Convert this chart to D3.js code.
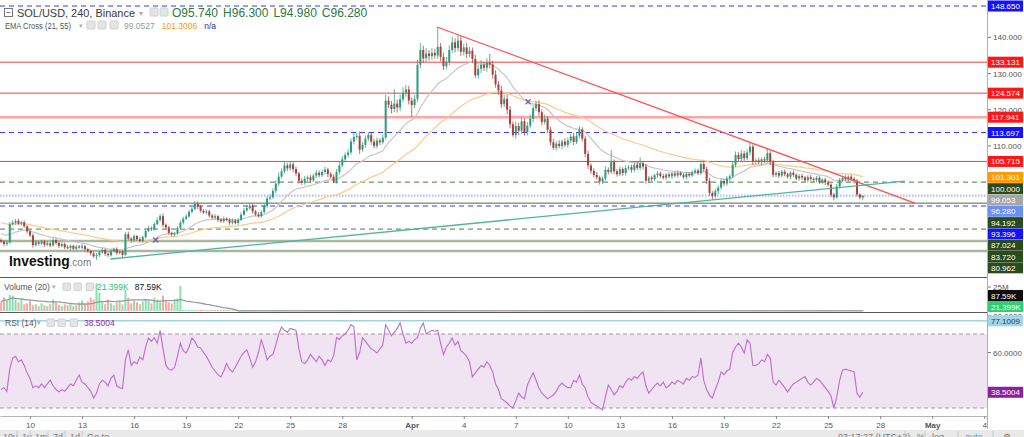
<!DOCTYPE html>
<html>
<head>
<meta charset="utf-8">
<title>SOL/USD 240</title>
<script src="https://cdn.jsdelivr.net/npm/d3@7"></script>
<style>
  html, body { margin: 0; padding: 0; background: #fff; overflow: hidden; }
  svg { display: block; font-family: "Liberation Sans", Arial, sans-serif; }
</style>
</head>
<body>
<svg id="chart" width="1024" height="437"></svg>
<script>
// ---- dados (velas de 4h, SOL/USD) ----
const firstCandle = Date.UTC(2022, 2, 8, 8);   // abertura da primeira vela
const firstOpen = 84.0;

const closes = [
  83.6, 82.9, 83.3, 88.4, 88.8, 89.3, 88.5, 88.9, 87.8, 86.4,
  85.3, 82.6, 83.4, 83.0, 83.6, 82.7, 83.1, 82.5, 84.0, 83.2,
  82.4, 82.9, 82.0, 81.8, 82.4, 81.6, 82.2, 81.9, 82.3, 81.5,
  81.0, 80.3, 79.5, 79.8, 80.6, 81.3, 80.2, 79.8, 80.9, 81.5,
  80.4, 80.8, 79.9, 85.6, 84.4, 83.9, 85.1, 84.2, 83.7, 84.8,
  86.5, 87.3, 87.0, 88.4, 89.5, 90.6, 88.2, 87.5, 86.0, 85.6,
  85.8, 87.3, 88.8, 89.9, 90.5, 91.8, 92.6, 94.0, 93.2, 92.1,
  91.6, 91.9, 90.8, 90.2, 90.6, 89.6, 89.2, 89.9, 89.5, 88.8,
  89.4, 88.7, 89.6, 91.0, 92.2, 92.8, 93.5, 91.9, 91.1, 90.6,
  91.7, 93.4, 95.5, 95.8, 97.6, 99.6, 101.5, 103.0, 104.6, 103.8,
  104.9, 103.6, 102.4, 100.4, 99.8, 100.9, 101.3, 100.5, 101.8, 102.6,
  101.9, 102.8, 103.5, 102.2, 101.5, 100.2, 102.8, 104.6, 106.3, 107.5,
  108.2, 111.2, 112.5, 112.8, 109.0, 110.3, 112.0, 113.0, 111.2, 110.0,
  111.5, 111.0, 112.3, 122.5, 121.4, 120.2, 121.7, 120.6, 122.9, 124.7,
  125.6, 122.5, 121.3, 123.0, 132.4, 136.5, 134.2, 135.5, 134.8, 135.7,
  135.0, 137.4, 134.6, 132.0, 133.2, 136.5, 138.6, 137.0, 139.1, 136.0,
  137.2, 135.4, 136.3, 134.0, 129.5, 131.3, 132.4, 131.6, 133.0, 132.5,
  129.7, 127.0, 125.3, 121.5, 123.0, 120.0, 116.0, 113.0, 115.5, 114.2,
  116.8, 113.8, 115.6, 117.5, 120.4, 121.5, 119.3, 116.6, 117.5, 114.5,
  111.0, 109.5, 110.6, 110.0, 111.2, 110.3, 111.5, 112.6, 111.1, 112.8,
  114.5, 112.0, 107.8, 104.6, 103.1, 102.0, 101.3, 100.2, 101.0, 103.4,
  102.8, 105.5, 103.0, 102.2, 103.6, 102.5, 103.9, 104.1, 103.4, 104.8,
  103.9, 105.2, 104.3, 100.4, 101.2, 100.8, 101.9, 102.4, 101.7, 101.2,
  102.1, 101.6, 102.4, 101.8, 102.6, 102.0, 101.4, 102.3, 101.8, 102.7,
  103.2, 102.5, 105.0, 103.6, 100.4, 97.0, 96.2, 97.5, 98.5, 100.3,
  99.6, 101.0, 101.6, 104.8, 107.5, 106.4, 107.9, 106.6, 108.2, 109.8,
  105.6, 106.0, 105.5, 106.3, 106.0, 108.0, 105.5, 102.0, 102.5, 101.8,
  102.9, 102.2, 101.5, 102.6, 102.0, 101.0, 101.7, 101.3, 100.5, 101.4,
  100.9, 100.6, 101.2, 100.0, 100.7, 99.9, 99.3, 96.5, 95.8, 98.8,
  100.5, 101.2, 100.8, 101.5, 100.9, 100.4, 96.6, 95.74, 96.28
];

// pavios (acima do corpo / abaixo do corpo)
const wickUp = [
  .5,.4,.6,.6,.7,.5,.6,.4,.5,.3, .4,.5,.6,.3,.5,.4,.6,.3,.5,.4,
  .3,.5,.4,.6,.4,.3,.5,.4,.6,.3, .4,.3,.5,.6,.4,.5,.3,.4,.6,.4,
  .5,.3,.4,.6,.7,.4,.5,.3,.6,.4, .5,.6,.4,.5,.7,.6,.8,.4,.5,.3,
  .4,.5,.6,.5,.7,.6,.5,.8,.6,.5, .4,.6,.5,.4,.6,.3,.5,.6,.4,.5,
  .6,.4,.5,.7,.6,.8,.7,.5,.4,.6, .5,.7,.6,.8,.7,.9,1.2,.8,1.1,.7,
  .9,.6,.7,.5,.6,.8,.5,.7,.6,.8, .6,.7,.8,.5,.6,.7,.8,1.0,.9,.7,
  1.0,.9,1.1,.8,1.2,.7,.9,.8,.6,.7, .8,.6,.9,1.6,1.2,1.0,4.0,1.1,1.3,1.5,
  1.2,1.0,.9,1.1,1.4,1.9,1.2,1.5,1.0,1.3, 1.1,5.45,1.0,1.2,1.4,1.3,1.6,1.1,1.5,1.2,
  1.0,1.3,1.1,.9,1.2,1.0,1.3,.8,1.2,2.4, 1.0,1.2,.9,1.4,1.1,1.3,1.0,.8,1.2,.9,
  1.1,.8,1.0,1.2,.9,1.0,1.1,.8,1.2,.7, .8,.9,.7,1.0,.6,.9,.8,.7,1.0,.8,
  1.0,.7,.8,.9,.6,.7,.8,.5,.6,.9, .7,3.4,.8,.6,.7,.5,.8,.6,.7,.5,
  .8,1.7,.6,.7,.5,.6,.4,.7,.5,.6, .5,.6,.4,.5,.6,.4,.5,.6,.4,.5,
  .6,.5,.9,.7,.6,.8,.5,.7,.6,.8, .5,.7,.6,.9,1.0,.8,.9,.7,.8,1.0,
  .7,.6,.8,.5,.7,1.4,.6,.7,.5,.6, .5,.6,.4,.5,.6,.4,.5,.6,.4,.5,
  .6,.4,.5,.6,.4,.5,.6,.4,.5,.7, .6,.5,.7,.4,.6,.5,.4,.3,.02
];
const wickDown = [
  .4,.6,.5,.3,.4,.6,.3,.5,.4,.6, .5,.7,.4,.5,.3,.6,.4,.5,.3,.5,
  .6,.4,.5,.3,.6,.4,.5,.3,.4,.6, .5,.6,.4,1.0,.5,.3,.6,.5,.4,.3,
  .5,.4,.6,.3,.5,.6,.4,.5,.3,.4, .4,.3,.5,.4,.3,.5,.6,.4,.5,.6,
  .5,.4,.3,.5,.4,.3,.5,.4,.6,.5, .4,.5,.6,.4,.5,.6,.4,.5,.3,.6,
  .5,.4,.6,.4,.3,.5,.4,.6,.5,.4, .5,.4,.6,.5,.4,.6,.7,.5,.6,.8,
  .6,.9,.7,.8,.6,.5,.7,.6,.5,.7, .6,.5,.7,.8,.6,.5,.6,.7,.5,.8,
  .7,.6,.8,.7,1.2,.6,.8,.7,.9,.6, .7,.8,.6,.5,1.0,1.2,.9,1.4,1.0,.8,
  1.1,1.0,3.3,.9,.8,1.0,1.3,.9,1.2,1.0, .9,1.0,1.2,1.1,.9,1.0,.8,1.2,.9,1.1,
  1.0,1.2,.9,1.1,.7,1.0,1.2,.9,1.1,1.0, 1.1,.9,1.2,1.0,.8,1.3,1.1,.5,.9,1.2,
  .8,1.0,.9,.7,1.0,.8,1.1,.9,.7,1.0, .9,.6,.8,.7,.9,.6,.8,.7,.9,.6,
  .7,.8,.9,1.0,.8,.7,.6,.9,.7,.6, .7,.6,.8,.7,.6,.8,.7,.6,.8,.7,
  .6,.7,.8,.9,.7,.6,.5,.7,.6,.5, .6,.5,.7,.5,.6,.4,.5,.6,.5,.4,
  .5,.6,.5,.7,.9,.8,1.1,.7,.8,.6, .7,.6,.8,.5,.7,.6,.8,.7,.6,.8,
  .9,.7,.6,.8,.7,.6,.8,.7,.6,.7, .5,.6,.5,.7,.6,.5,.6,.7,.5,.6,
  .5,.6,.7,.5,.6,.7,.5,.6,.8,.5, .6,.5,.6,.7,.5,.8,.6,.5,.76
];

// volume em milhões
const volumes = [
  9, 14, 11, 17, 16, 12, 9, 13, 7, 8, 11, 6, 7, 5, 8, 6, 5, 7, 12, 9,
  6, 5, 7, 6, 8, 5, 6, 9, 11, 7, 10, 14, 12, 29, 19, 9, 7, 12, 8, 6,
  9, 10, 7, 22, 14, 8, 11, 9, 7, 10, 12, 11, 8, 14, 12, 10, 16, 11, 9, 8,
  12, 13, 26,
  0.14,0.11,0.16,0.12,0.19,0.13,0.10,0.09,0.12,0.08,0.11,0.10,
  0.09,0.13,0.08,0.10,0.12,0.07,0.09,0.11,0.14,0.12,0.10,0.13,
  0.11,0.08,0.09,0.12,0.15,0.18,0.13,0.17,0.21,0.19,0.16,0.14,
  0.12,0.15,0.11,0.13,0.10,0.12,0.09,0.11,0.08,0.10,0.12,0.09,
  0.10,0.11,0.09,0.12,0.13,0.14,0.16,0.15,0.13,0.18,0.17,0.12,
  0.14,0.11,0.10,0.12,0.09,0.11,0.10,0.09,0.13,0.26,0.18,0.14,
  0.12,0.13,0.11,0.15,0.14,0.16,0.12,0.13,0.27,0.21,0.16,0.13,
  0.12,0.11,0.10,0.19,0.15,0.14,0.12,0.16,0.14,0.13,0.15,0.12,
  0.11,0.10,0.12,0.13,0.22,0.15,0.12,0.10,0.11,0.13,0.14,0.16,
  0.15,0.18,0.13,0.14,0.20,0.17,0.15,0.12,0.14,0.13,0.11,0.12,
  0.15,0.13,0.12,0.14,0.11,0.13,0.16,0.12,0.10,0.09,0.10,0.08,
  0.09,0.10,0.11,0.09,0.12,0.11,0.17,0.15,0.12,0.10,0.09,0.11,
  0.10,0.12,0.14,0.11,0.13,0.10,0.08,0.09,0.07,0.08,0.09,0.07,
  0.08,0.09,0.10,0.08,0.13,0.09,0.07,0.08,0.06,0.07,0.08,0.06,
  0.07,0.06,0.08,0.07,0.06,0.07,0.05,0.06,0.07,0.06,0.08,0.11,
  0.09,0.12,0.14,0.11,0.09,0.10,0.08,0.09,0.07,0.08,0.12,0.13,
  0.10,0.09,0.11,0.08,0.12,0.13,0.09,0.08,0.07,0.08,0.10,0.11,
  0.09,0.08,0.07,0.08,0.06,0.07,0.06,0.07,0.08,0.06,0.07,0.06,
  0.07,0.08,0.06,0.07,0.08,0.07,0.09,0.10,0.16,0.12,0.11,0.09,
  0.08,0.07,0.09,0.08,0.07,0.14,0.11,0.021399
];

const rsiValues = [
  40, 41, 39, 51, 57, 58, 55, 56, 53, 49,
  46, 41, 42, 41, 43, 41, 43, 45, 42, 40,
  38.7, 40, 39, 41, 43, 42, 45, 47.8, 44, 43,
  41, 39, 35.4, 38, 43, 45, 44, 42, 46, 47.8,
  42, 41, 40.5, 56, 61.4, 53, 55, 54, 57.6, 56,
  63, 67.8, 66, 68, 65, 72, 62, 53, 51, 50.5,
  52, 58, 65, 61, 59.7, 63, 67.8, 66, 63, 62.4,
  60, 58, 55, 52, 50, 48, 46.8, 50, 54, 51,
  49.5, 52, 55, 58, 60, 61.4, 57, 52, 55, 60,
  66.8, 62, 56, 58, 59, 64, 70, 73.8, 72, 71,
  73, 72.5, 72, 62, 55, 54, 56, 59, 57, 55,
  58, 56, 53, 56, 55, 58, 68, 67, 69, 70,
  72, 75, 74, 56, 60, 68, 66, 64, 62, 61,
  59.7, 62, 64, 75, 72, 69, 71, 73, 76, 70,
  65, 66, 65, 67, 68, 73, 76, 70, 71, 72,
  71.5, 72, 65, 59, 63, 65, 67.8, 64, 66, 61,
  59.7, 58, 55, 46.8, 49, 51, 53, 52, 55, 53,
  49.5, 43, 40, 35, 34, 32.7, 31, 30, 34, 38,
  36, 35, 42.4, 46, 49, 45, 40.8, 38, 36.5, 35,
  36, 37, 39, 42, 43.5, 42, 41, 41, 45, 44,
  47.8, 43, 40.8, 36, 33, 32, 31, 30, 29, 36,
  42.4, 40, 37, 39, 42, 41, 44, 46, 45, 47,
  46, 48, 49.5, 42, 38, 40, 42, 43.5, 42, 44,
  40.8, 42, 44, 43, 45, 44, 43, 46, 45, 47,
  46.5, 47.8, 57, 44.9, 40, 37, 35.4, 40, 44, 49.5,
  48, 50, 51, 60, 63, 65, 63, 59.7, 66.8, 65,
  53, 53, 54, 56, 55, 59, 57, 44, 42.4, 45,
  43, 41, 38.7, 41, 43, 44, 45, 46, 47, 44,
  42.4, 44, 46, 45, 43, 41, 39, 36.6, 30, 36,
  45, 50.5, 51, 50.5, 50, 49.5, 38, 35.8, 38.5004
];

// médias exponenciais: valores iniciais lidos à esquerda do gráfico
const ema21Seed = 86.0;
const ema55Seed = 89.0;

// linhas horizontais desenhadas no gráfico
const levels = [148.65, 133.131, 124.574, 117.941, 113.697, 105.715, 100.0, 94.192, 93.396, 87.024, 83.72, 80.962];
const priceTicks = [110, 120, 130, 140];
const volTicks = [25];
const rsiTicks = [60, 80];
const rsiBands = [70, 30];
const rsiMark = 77.1009;

// linhas de tendência [data, preço]
const redTrend = [[Date.UTC(2022, 3, 2, 11), 142.85], [Date.UTC(2022, 3, 30, 0), 94.2]];
const tealTrend = [[Date.UTC(2022, 2, 14, 15), 78.76], [Date.UTC(2022, 3, 29, 10), 100.3]];
const crossMarks = [[Date.UTC(2022, 2, 17, 6), 84.0], [Date.UTC(2022, 3, 7, 17), 122.2]];

// textos da legenda
const legendOHLC = ['O95.740', 'H96.300', 'L94.980', 'C96.280'];
const legendEma = ['99.0527', '101.3006', 'n/a'];
const legendVol = ['21.399K', '87.59K'];
const legendRsi = '38.5004';

// eixo X: dias marcados em cada mês
const tickMonths = [2, 3, 4];
const tickDays = [1, 4, 7, 10, 13, 16, 19, 22, 25, 28];
const monthNames = ['Jan', 'Feb', 'Mar', 'Apr', 'May', 'Jun'];

// ---- estilos (fora dos dados) ----
const BLUE = { stroke: '#3636ff', dash: '5,4', w: 1, bg: '#1212ff' };
const RED = { stroke: '#ff3a3a', dash: null, w: 1, bg: '#ff1717' };
const GDASH = { stroke: '#4d7a43', dash: '5,4', w: 1, bg: '#2b4a1e' };
const OLIVE = { stroke: '#a9b6a0', dash: null, w: 2.5, bg: '#2b4a1e' };
const levelLook = [
  BLUE, RED, RED, { stroke: '#ffa4a4', dash: null, w: 2.5, bg: '#ff1717' }, BLUE, RED,
  GDASH, { stroke: '#4e6b46', dash: null, w: 1, bg: '#2b4a1e' }, BLUE, GDASH, OLIVE, OLIVE
];
const UP = '#2b9c7c', DOWN = '#a8403c';

// ---- montagem ----
const plotRight = 987;
const svg = d3.select('#chart');

const x = d3.scaleUtc()
  .domain([Date.UTC(2022, 2, 8, 6, 30), Date.UTC(2022, 4, 4, 3, 50)])
  .range([0, plotRight]);
const y = d3.scaleLinear().domain([73.79, 150.31]).range([277, 0]);
const yVol = d3.scaleLinear().domain([0, 34.4]).range([311, 278]);
const yRsi = d3.scaleLinear().domain([30, 70]).range([408, 334]);

const velas = closes.map((c, i) => {
  const o = i === 0 ? firstOpen : closes[i - 1];
  return {
    t: new Date(firstCandle + i * 4 * 3600e3),
    o, c,
    h: Math.max(o, c) + (wickUp[i] ?? 0.4),
    l: Math.min(o, c) - (wickDown[i] ?? 0.4),
    v: volumes[i] ?? 0.05,
    r: rsiValues[i]
  };
});

function ema(vals, n, seed) {
  const k = 2 / (n + 1);
  let e = seed;
  return vals.map(v => (e = v * k + e * (1 - k)));
}
const ema21 = ema(closes, 21, ema21Seed);
const ema55 = ema(closes, 55, ema55Seed);
const volMA = volumes.map((v, i) => d3.mean(volumes.slice(Math.max(0, i - 19), i + 1)));

// recortes por painel
const defs = svg.append('defs');
[['clipMain', 0, 277], ['clipVol', 278, 312], ['clipRsi', 313, 416]].forEach(([id, y0, y1]) => {
  defs.append('clipPath').attr('id', id).append('rect')
    .attr('x', 0).attr('y', y0).attr('width', plotRight).attr('height', y1 - y0);
});

// ===== painel principal =====
const main = svg.append('g').attr('clip-path', 'url(#clipMain)');

main.selectAll('.lvl').data(levels).enter().append('line')
  .attr('x1', 0).attr('x2', plotRight)
  .attr('y1', d => y(d)).attr('y2', d => y(d))
  .attr('stroke', (d, i) => levelLook[i].stroke)
  .attr('stroke-width', (d, i) => levelLook[i].w)
  .attr('stroke-dasharray', (d, i) => levelLook[i].dash);

// linha do preço atual
const lastClose = closes[closes.length - 1];
main.append('line')
  .attr('x1', 0).attr('x2', plotRight).attr('y1', y(lastClose)).attr('y2', y(lastClose))
  .attr('stroke', '#b2c0f2').attr('stroke-width', 2.2).attr('stroke-dasharray', '1.5,1.5');

const lineGen = d3.line().x(d => x(d[0])).y(d => y(d[1]));
main.append('path').datum(velas.map((d, i) => [d.t, ema55[i]]))
  .attr('d', lineGen).attr('fill', 'none').attr('stroke', '#ffc98c').attr('stroke-width', 1.2);
main.append('path').datum(velas.map((d, i) => [d.t, ema21[i]]))
  .attr('d', lineGen).attr('fill', 'none').attr('stroke', '#c6c6c6').attr('stroke-width', 1.2);

// velas
const vg = main.append('g');
vg.selectAll('.pavio').data(velas).enter().append('line')
  .attr('x1', d => x(d.t)).attr('x2', d => x(d.t))
  .attr('y1', d => y(d.h)).attr('y2', d => y(d.l))
  .attr('stroke', d => d.c >= d.o ? UP : DOWN).attr('stroke-opacity', 0.75).attr('stroke-width', 1);
vg.selectAll('.corpo').data(velas).enter().append('rect')
  .attr('x', d => x(d.t) - 1).attr('width', 2)
  .attr('y', d => y(Math.max(d.o, d.c)))
  .attr('height', d => Math.max(1, Math.abs(y(d.o) - y(d.c))))
  .attr('fill', d => d.c >= d.o ? UP : DOWN);

// linhas de tendência
main.append('path').datum(redTrend).attr('d', lineGen)
  .attr('stroke', '#ff5252').attr('stroke-width', 1.3).attr('fill', 'none');
main.append('path').datum(tealTrend).attr('d', lineGen)
  .attr('stroke', '#4fb59b').attr('stroke-width', 1.3).attr('fill', 'none');

// marcas de cruzamento das médias
main.selectAll('.cruz').data(crossMarks).enter().append('path')
  .attr('transform', d => `translate(${x(d[0])},${y(d[1])})`)
  .attr('d', 'M-2.5,-2.5L2.5,2.5M-2.5,2.5L2.5,-2.5')
  .attr('stroke', '#6a5fb5').attr('stroke-width', 1.2);

// legenda superior
function icons(g, xs, yTop, s) {
  xs.forEach(px => g.append('rect').attr('x', px).attr('y', yTop).attr('width', s).attr('height', s)
    .attr('rx', 1).attr('fill', '#e4e4e4').attr('stroke', '#d2d2d2'));
}
const leg = svg.append('g');
leg.append('rect').attr('x', 4.5).attr('y', 8.5).attr('width', 8).attr('height', 8)
  .attr('fill', '#fff').attr('stroke', '#777');
leg.append('line').attr('x1', 6.5).attr('x2', 10.5).attr('y1', 12.5).attr('y2', 12.5).attr('stroke', '#777');
leg.append('text').attr('x', 17).attr('y', 17).attr('font-size', 11.5).attr('fill', '#3a3a3a')
  .attr('textLength', 118).attr('lengthAdjust', 'spacingAndGlyphs').text('SOL/USD, 240, Binance');
leg.append('text').attr('x', 139).attr('y', 16).attr('font-size', 8).attr('fill', '#aaa').text('▾');
icons(leg, [150, 160], 8, 8);
leg.append('text').attr('x', 172).attr('y', 17).attr('font-size', 12).attr('fill', '#2a7a3c')
  .selectAll('tspan').data(legendOHLC).enter().append('tspan')
  .attr('dx', (d, i) => i ? 5 : 0).text(d => d);

leg.append('text').attr('x', 5).attr('y', 29).attr('font-size', 8.5).attr('fill', '#555')
  .attr('textLength', 66).attr('lengthAdjust', 'spacingAndGlyphs').text('EMA Cross (21, 55)');
leg.append('text').attr('x', 78.5).attr('y', 28).attr('font-size', 6.5).attr('fill', '#aaa').text('▾');
icons(leg, [87, 98, 110], 21, 8);
const emaColors = ['#9a9a9a', '#ff9800', '#3030a0'];
leg.append('text').attr('x', 124).attr('y', 29).attr('font-size', 8.5)
  .selectAll('tspan').data(legendEma).enter().append('tspan')
  .attr('dx', (d, i) => i ? 7 : 0).attr('fill', (d, i) => emaColors[i]).text(d => d);

// logotipo
const logo = svg.append('text').attr('x', 9).attr('y', 266);
logo.append('tspan').attr('font-size', 13.8).attr('font-weight', 'bold').attr('fill', '#111').text('Investing');
logo.append('tspan').attr('font-size', 10).attr('fill', '#777').text('.com');

// ===== painel de volume =====
const vol = svg.append('g').attr('clip-path', 'url(#clipVol)');
vol.selectAll('.vbar').data(velas).enter().append('rect')
  .attr('x', d => x(d.t) - 1).attr('width', 2)
  .attr('y', d => Math.min(yVol(d.v), 310))
  .attr('height', d => Math.max(1, yVol(0) - yVol(d.v)))
  .attr('fill', d => d.c >= d.o ? '#86e2b0' : '#f7aaa3');
vol.append('path').datum(velas.map((d, i) => [d.t, volMA[i]]))
  .attr('d', d3.line().x(d => x(d[0])).y(d => yVol(d[1])))
  .attr('fill', 'none').attr('stroke', '#9a9a9a').attr('stroke-width', 1.3);

svg.append('text').attr('x', 4).attr('y', 290).attr('font-size', 8.5).attr('fill', '#555').text('Volume (20)');
svg.append('text').attr('x', 52).attr('y', 289).attr('font-size', 7).attr('fill', '#aaa').text('▾');
icons(svg, [63, 74, 86], 283, 7.5);
svg.append('text').attr('x', 97).attr('y', 290).attr('font-size', 8.5)
  .selectAll('tspan').data(legendVol).enter().append('tspan')
  .attr('dx', (d, i) => i ? 6 : 0).attr('fill', (d, i) => i ? '#111' : '#2fbf6c').text(d => d);

// ===== painel RSI =====
const rs = svg.append('g').attr('clip-path', 'url(#clipRsi)');
rs.append('rect').attr('x', 0).attr('width', plotRight)
  .attr('y', yRsi(rsiBands[0])).attr('height', yRsi(rsiBands[1]) - yRsi(rsiBands[0]))
  .attr('fill', '#f0e3f2');
rs.selectAll('.banda').data(rsiBands).enter().append('line')
  .attr('x1', 0).attr('x2', plotRight).attr('y1', d => yRsi(d)).attr('y2', d => yRsi(d))
  .attr('stroke', '#9c969c').attr('stroke-dasharray', '4,3');
rs.append('line').attr('x1', 0).attr('x2', plotRight)
  .attr('y1', yRsi(rsiMark)).attr('y2', yRsi(rsiMark))
  .attr('stroke', '#9fd3e3').attr('stroke-width', 1.5);
rs.append('path').datum(velas)
  .attr('d', d3.line().x(d => x(d.t)).y(d => yRsi(d.r)))
  .attr('fill', 'none').attr('stroke', '#bb6fcb').attr('stroke-width', 1.1);

svg.append('text').attr('x', 5).attr('y', 326).attr('font-size', 8.5).attr('fill', '#555').text('RSI (14)');
svg.append('text').attr('x', 37).attr('y', 325).attr('font-size', 7).attr('fill', '#aaa').text('▾');
icons(svg, [47, 58, 70], 319, 7.5);
svg.append('text').attr('x', 84).attr('y', 326).attr('font-size', 8.5).attr('fill', '#8e2aa5').text(legendRsi);

// separadores dos painéis
[277.5, 312.5].forEach(py => svg.append('line').attr('x1', 0).attr('x2', plotRight)
  .attr('y1', py).attr('y2', py).attr('stroke', '#5a5a5a').attr('stroke-width', 1.2));

// ===== eixo X =====
const tickDates = [];
tickMonths.forEach(m => tickDays.forEach(dd => tickDates.push(new Date(Date.UTC(2022, m, dd)))));
const xTicks = tickDates.filter(d => d >= x.domain()[0] && d <= x.domain()[1]);
const xAxis = svg.append('g').attr('transform', 'translate(0,416)')
  .call(d3.axisBottom(x).tickValues(xTicks).tickSizeInner(3).tickSizeOuter(0).tickPadding(3)
    .tickFormat(d => d.getUTCDate() === 1 ? monthNames[d.getUTCMonth()] : String(d.getUTCDate())));
xAxis.select('.domain').attr('stroke', '#b5b5b5');
xAxis.selectAll('.tick line').attr('stroke', '#888');
xAxis.selectAll('.tick text').attr('font-size', 8).attr('fill', '#555')
  .attr('font-family', '"Liberation Sans", Arial, sans-serif')
  .attr('font-weight', d => d.getUTCDate() === 1 ? 'bold' : null);

// ===== eixo direito =====
svg.append('rect').attr('x', plotRight).attr('y', 0).attr('width', 1024 - plotRight).attr('height', 429).attr('fill', '#fff');
svg.append('line').attr('x1', plotRight + 0.5).attr('x2', plotRight + 0.5).attr('y1', 0).attr('y2', 429)
  .attr('stroke', '#b0b0b0');

const ax = svg.append('g').attr('font-size', 8);
function tickText(vals, scale, fmt) {
  vals.forEach(v => {
    ax.append('line').attr('x1', plotRight + 1).attr('x2', plotRight + 4)
      .attr('y1', scale(v)).attr('y2', scale(v)).attr('stroke', '#777');
    ax.append('text').attr('x', plotRight + 6).attr('y', scale(v) + 3).attr('fill', '#555').text(fmt(v));
  });
}
tickText(priceTicks, y, v => v.toFixed(3));
tickText(volTicks, yVol, v => v + 'M');
tickText(rsiTicks, yRsi, v => v.toFixed(4));

function labelBox(d, yy) {
  ax.append('rect').attr('x', plotRight + 1).attr('y', yy - 5.5).attr('width', 35).attr('height', 11)
    .attr('fill', d.bg);
  ax.append('text').attr('x', plotRight + 4).attr('y', yy + 3).attr('fill', d.fg || '#fff').text(d.txt);
}

// etiquetas de preço empilhadas como no original
const priceLabels = levels.map((v, i) => ({ v, txt: v.toFixed(3), bg: levelLook[i].bg }))
  .concat([
    { v: +legendEma[1], txt: (+legendEma[1]).toFixed(3), bg: '#ff9a0a' },
    { v: +legendEma[0], txt: (+legendEma[0]).toFixed(3), bg: '#a6a6a6' },
    { v: lastClose, txt: lastClose.toFixed(3), bg: '#6c8ff2' }
  ])
  .sort((a, b) => y(a.v) - y(b.v));
let prevY = -Infinity;
priceLabels.forEach(d => { d.y = Math.max(y(d.v), prevY + 11.3); prevY = d.y; });
priceLabels.forEach(d => labelBox(d, d.y));

// volume: empilha de baixo para cima
const volLabels = [
  { v: volumes[volumes.length - 1], txt: legendVol[0], bg: '#2ecf73' },
  { v: volMA[volMA.length - 1], txt: legendVol[1], bg: '#0c0c0c' }
];
let prevV = 312 + 5.5;
volLabels.forEach(d => { d.y = Math.min(yVol(d.v), prevV - 11); prevV = d.y; });
volLabels.forEach(d => labelBox(d, d.y));

labelBox({ txt: rsiMark.toFixed(4), bg: '#a2d6e6', fg: '#1d3c55' }, yRsi(rsiMark));
labelBox({ txt: legendRsi, bg: '#8e1f9e' }, yRsi(+legendRsi));

// ===== barra inferior =====
const bar = svg.append('g');
bar.append('rect').attr('x', 0).attr('y', 430).attr('width', 1024).attr('height', 7).attr('fill', '#e9e9e9');
const barItems = [['10y', 3], ['1y', 22], ['1m', 35], ['7d', 53], ['1d', 70], ['Go to...', 87],
  ['03:17:27 (UTC+3)', 838], ['%', 917], ['log', 932], ['auto', 965], ['⚙', 1003]];
bar.selectAll('text').data(barItems).enter().append('text')
  .attr('x', d => d[1]).attr('y', 440).attr('font-size', 9)
  .attr('fill', d => d[0] === 'auto' ? '#4a9fd8' : '#777').text(d => d[0]);
[17, 30, 48, 65, 82, 905, 925, 958, 993].forEach(px => bar.append('line')
  .attr('x1', px).attr('x2', px).attr('y1', 431).attr('y2', 437).attr('stroke', '#c8c8c8'));
</script>
</body>
</html>
